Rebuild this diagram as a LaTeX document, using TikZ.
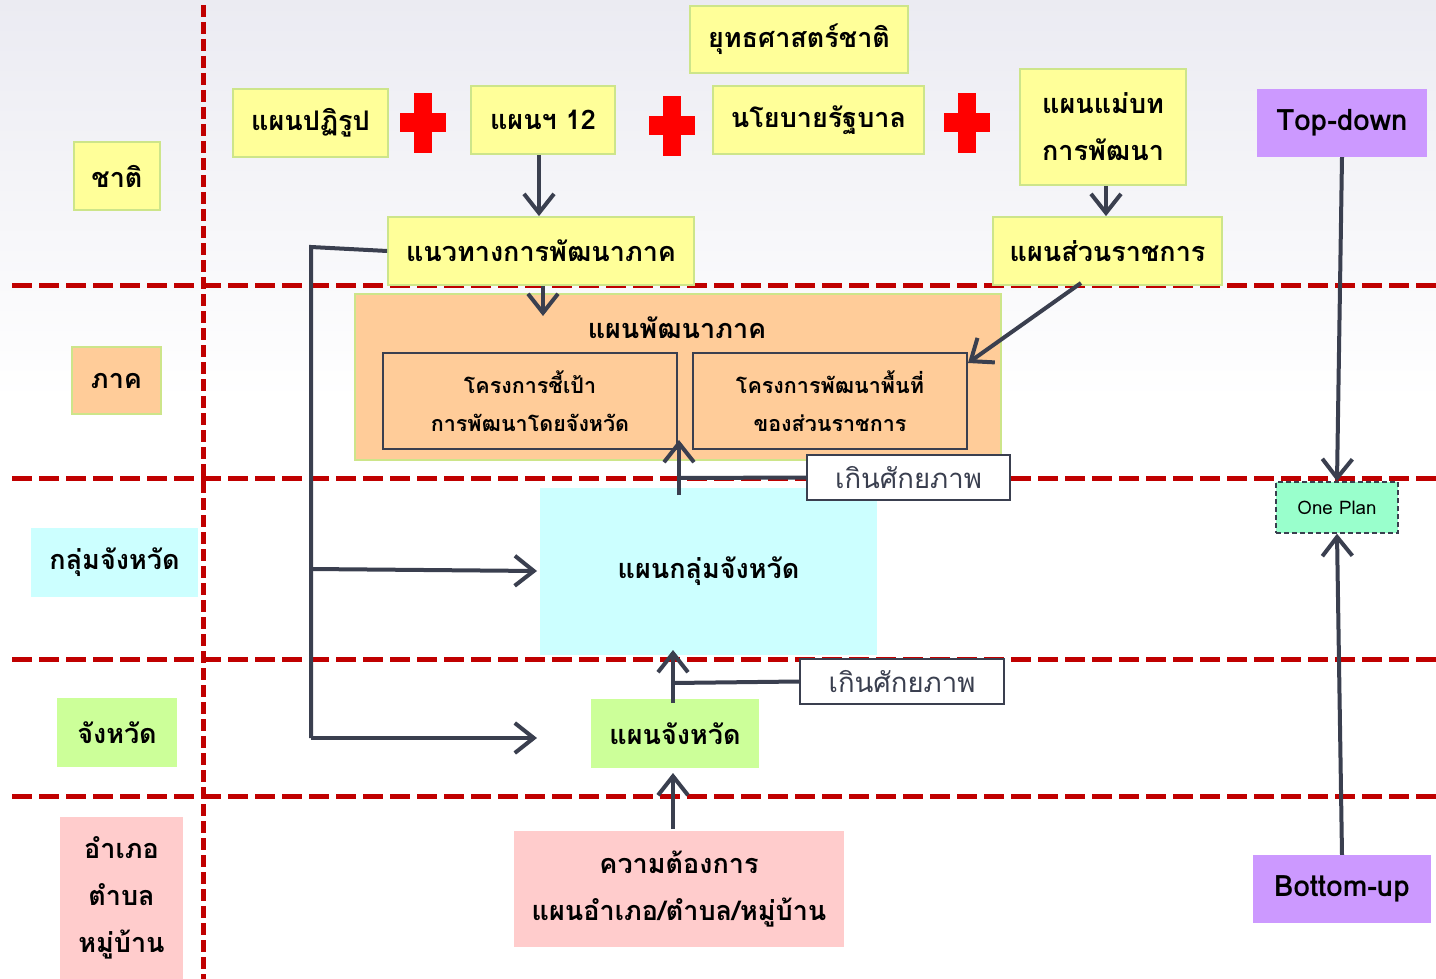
\documentclass[tikz,border=0pt]{standalone}
\usepackage{fontspec}
\setmainfont{Loma}[Script=Thai]
\usetikzlibrary{arrows.meta}
\definecolor{yel}{HTML}{FFFF99}
\definecolor{yelb}{HTML}{CDE58A}
\definecolor{org}{HTML}{FFCC99}
\definecolor{cyn}{HTML}{CCFFFF}
\definecolor{grn}{HTML}{CCFF99}
\definecolor{pnk}{HTML}{FFCCCC}
\definecolor{prp}{HTML}{CC99FF}
\definecolor{mnt}{HTML}{99FFCC}
\definecolor{dk}{HTML}{3A3F4F}
\definecolor{lred}{HTML}{C00000}
\definecolor{bgtop}{HTML}{EBEBF2}
\begin{document}
\begin{tikzpicture}[x=1pt,y=-1pt,
  txt/.style={font=\bfseries\fontsize{27}{47}\selectfont},
  box/.style={txt, inner sep=0pt, align=center},
  ybox/.style={box, fill=yel, draw=yelb, line width=1.8pt},
  obox/.style={box, fill=org, draw=yelb, line width=1.8pt},
  ibox/.style={box, fill=org, draw=dk, line width=1.6pt, font=\bfseries\fontsize{21.5}{38}\selectfont},
  lat/.style={box, font=\bfseries\fontsize{29.5}{34}\selectfont},
  plain/.style={box, draw=none},
  wbox/.style={box, fill=white, draw=dk, line width=1.2pt, text=dk, font=\fontsize{27.5}{30}\selectfont},
  conn/.style={draw=dk, line width=4pt},
  arr/.style={conn, -{Straight Barb[length=19pt,width=30pt,line width=4pt]}},
  hline/.style={draw=lred, line width=5pt, dash pattern=on 20pt off 7pt},
  vline/.style={draw=lred, line width=5pt, dash pattern=on 12pt off 5pt},
  cross/.style={fill=red, draw=none}
]
\useasboundingbox (0,0) rectangle (1436,979);
\fill[white] (0,0) rectangle (1436,979);
\shade[top color=bgtop, bottom color=white] (0,0) rectangle (1436,400);

% grid lines
\foreach \yy in {285,478,659,796} \draw[hline] (12,\yy) -- (1436,\yy);
\draw[vline] (203,5) -- (203,979);

% level labels
\node[ybox, minimum width=86pt, minimum height=68pt] (lchati) at (117,176) {ชาติ};
\node[obox, minimum width=89pt, minimum height=67pt] (lpak) at (116.5,380.5) {ภาค};
\node[box, fill=cyn, minimum width=167pt, minimum height=69pt] (lglum) at (114.5,562.5) {กลุ่มจังหวัด};
\node[box, fill=grn, minimum width=120pt, minimum height=69pt] (ljw) at (117,732.5) {จังหวัด};
\node[box, fill=pnk, minimum width=123pt, minimum height=162pt] (lamp) at (121.5,898) {อำเภอ\\ตำบล\\หมู่บ้าน};

% top row
\node[ybox, minimum width=218pt, minimum height=67pt] (yut) at (799,39.5) {ยุทธศาสตร์ชาติ};
\node[ybox, minimum width=155pt, minimum height=68pt] (pfr) at (310.5,123) {แผนปฏิรูป};
\node[ybox, minimum width=144pt, minimum height=68pt] (p12) at (543,120) {แผนฯ 12};
\node[ybox, minimum width=211pt, minimum height=68pt] (pol) at (818.5,120) {นโยบายรัฐบาล};
\node[ybox, minimum width=166pt, minimum height=116pt] (mae) at (1103,127) {แผนแม่บท\\การพัฒนา};
\node[ybox, minimum width=306pt, minimum height=68pt] (nav) at (541,251) {แนวทางการพัฒนาภาค};
\node[ybox, minimum width=229pt, minimum height=68pt] (srk) at (1107.5,251) {แผนส่วนราชการ};

% crosses
\foreach \cx/\cy in {423/123,672/126,967/123} {
  \fill[cross] (\cx-23,\cy-9.5) rectangle (\cx+23,\cy+9.5);
  \fill[cross] (\cx-9,\cy-30) rectangle (\cx+9,\cy+30);
}

% region plan
\node[obox, minimum width=646pt, minimum height=166pt] (reg) at (678,377) {};
\node[plain] (regt) at (677,328) {แผนพัฒนาภาค};
\node[ibox, minimum width=294pt, minimum height=96pt] (inl) at (530,401) {โครงการชี้เป้า\\การพัฒนาโดยจังหวัด};
\node[ibox, minimum width=274pt, minimum height=96pt] (inr) at (830,401) {โครงการพัฒนาพื้นที่\\ของส่วนราชการ};

% province group
\node[box, fill=cyn, minimum width=337pt, minimum height=167pt] (glp) at (708.5,571.5) {แผนกลุ่มจังหวัด};
\node[box, fill=grn, minimum width=168pt, minimum height=69pt] (pj) at (675,733.5) {แผนจังหวัด};
\node[box, fill=pnk, minimum width=330pt, minimum height=116pt] (need) at (679,889) {ความต้องการ\\แผนอำเภอ/ตำบล/หมู่บ้าน};

\node[wbox, minimum width=203pt, minimum height=45pt] (ks1) at (908.5,477.5) {เกินศักยภาพ};
\node[wbox, minimum width=204pt, minimum height=45pt] (ks2) at (902,681.5) {เกินศักยภาพ};

% right side
\node[lat, fill=prp, minimum width=170pt, minimum height=68pt] (tdn) at (1342,123) {Top-down};
\node[lat, fill=prp, minimum width=178pt, minimum height=68pt] (bup) at (1342,889) {Bottom-up};
\node[box, fill=mnt, draw=dk, line width=1.5pt, dash pattern=on 5pt off 3pt, minimum width=122pt, minimum height=51pt, font=\fontsize{18.7}{22}\selectfont] (op) at (1337,507.5) {One Plan};

% coordinates
\coordinate (x12) at (539,0);
\coordinate (xmae) at (1106,0);
\coordinate (jl) at (311,247);
\coordinate (jm) at (311,569);
\coordinate (jb) at (311,738);
\coordinate (gin) at (537,571);
\coordinate (pin) at (537,738);
\coordinate (a1s) at (679,495);
\coordinate (a1m) at (679,478);
\coordinate (a1e) at (679,440);
\coordinate (a2s) at (673,703);
\coordinate (a2m) at (673,683);
\coordinate (a2e) at (673,650);
\coordinate (a3s) at (673,829);
\coordinate (a3e) at (673,773);
\coordinate (a4s) at (1081,283);
\coordinate (a4e) at (968,363);
\coordinate (a5e) at (543,316);

% connectors
\draw[arr] (p12.south -| x12) -- (nav.north -| x12);
\draw[arr] (mae.south -| xmae) -- (srk.north -| xmae);
\draw[arr] (nav.south -| a5e) -- (a5e);
\draw[arr] (a4s) -- (a4e);
\draw[conn] (nav.west) -- (jl) -- (jb);
\draw[arr] (jm) -- (gin);
\draw[arr] (jb) -- (pin);
\draw[arr] (a1s) -- (a1e);
\draw[conn] (a1m) -- (ks1.west);
\draw[arr] (a2s) -- (a2e);
\draw[conn] (a2m) -- (ks2.west);
\draw[arr] (a3s) -- (a3e);
\draw[arr] (tdn.south) -- (op.north);
\draw[arr] (bup.north) -- (op.south);
\end{tikzpicture}
\end{document}
